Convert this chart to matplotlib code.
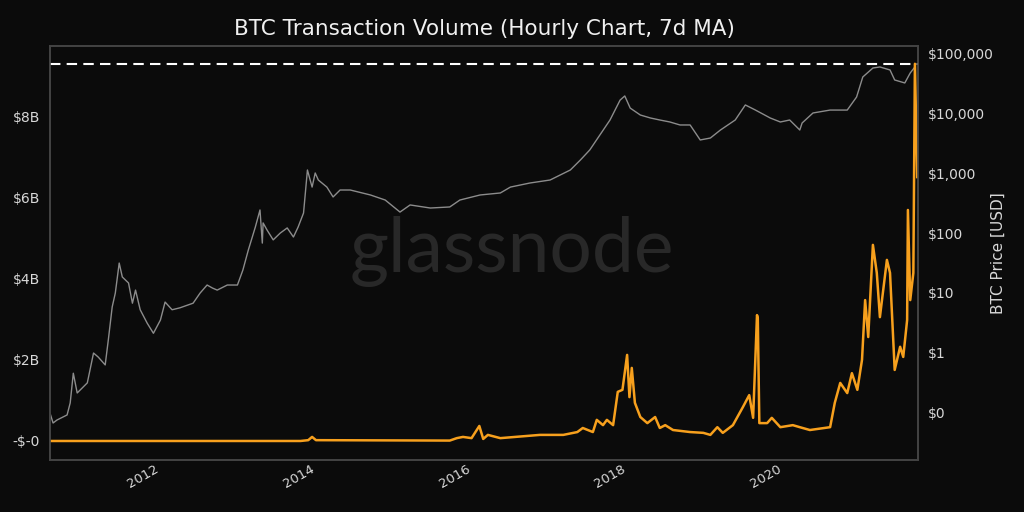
import numpy as np
import matplotlib
matplotlib.use('Agg')
import matplotlib.pyplot as plt
from matplotlib.ticker import FuncFormatter, FixedLocator

# BTC price (USD), time in decimal years
price_t = [2010.57, 2010.61, 2010.66, 2010.79, 2010.83, 2010.87, 2010.92, 2011.05, 2011.13, 2011.19,
           2011.28, 2011.32, 2011.37, 2011.41, 2011.46, 2011.50, 2011.58, 2011.63, 2011.67, 2011.73,
           2011.82, 2011.90, 2011.99, 2012.05, 2012.14, 2012.24, 2012.41, 2012.50, 2012.59, 2012.66,
           2012.72, 2012.85, 2012.98, 2013.05, 2013.12, 2013.21, 2013.27, 2013.30, 2013.31, 2013.36,
           2013.44, 2013.53, 2013.62, 2013.70, 2013.76, 2013.83, 2013.88, 2013.94, 2013.98, 2014.02,
           2014.13, 2014.21, 2014.30, 2014.43, 2014.69, 2014.88, 2015.07, 2015.20, 2015.46, 2015.71,
           2015.84, 2016.10, 2016.36, 2016.49, 2016.74, 2017.00, 2017.26, 2017.39, 2017.51, 2017.64,
           2017.77, 2017.90, 2017.96, 2018.03, 2018.16, 2018.29, 2018.41, 2018.54, 2018.67, 2018.80,
           2018.93, 2019.06, 2019.19, 2019.38, 2019.51, 2019.64, 2019.83, 2019.96, 2020.08, 2020.21,
           2020.24, 2020.38, 2020.60, 2020.82, 2020.94, 2021.02, 2021.15, 2021.24, 2021.37, 2021.43,
           2021.56, 2021.63, 2021.69]
price_usd = [0.097, 0.066, 0.074, 0.090, 0.143, 0.45, 0.21, 0.31, 0.98, 0.84,
             0.62, 1.62, 5.8, 9.9, 31.5, 18.4, 14.6, 6.7, 11.1, 5.2,
             3.1, 2.1, 3.5, 7.0, 5.2, 5.6, 6.7, 9.9, 13.5, 12.0,
             11.1, 13.5, 13.5, 24, 52, 126, 244, 68, 148, 113,
             77, 100, 122, 86, 126, 217, 1140, 590, 1016, 775,
             590, 403, 527, 527, 435, 358, 225, 296, 263, 274,
             358, 435, 470, 590, 690, 775, 1140, 1680, 2470, 4400,
             7840, 16900, 19800, 12400, 9500, 8470, 7840, 7260, 6470, 6470,
             3630, 3910, 5330, 7840, 14000, 11500, 8470, 7260, 7840, 5330,
             6990, 10280, 11500, 11500, 19000, 41200, 58200, 60600, 54000, 36700,
             32700, 48100, 60600]

# Transaction volume (USD billions, 7d MA)
vol_t = [2010.57, 2013.79, 2013.89, 2013.94, 2013.99, 2015.71, 2015.80, 2015.88, 2015.99, 2016.09,
         2016.14, 2016.20, 2016.36, 2016.87, 2017.17, 2017.35, 2017.42, 2017.55, 2017.60, 2017.68,
         2017.73, 2017.81, 2017.87, 2017.93, 2017.99, 2018.02, 2018.05, 2018.09, 2018.16, 2018.25,
         2018.35, 2018.41, 2018.48, 2018.58, 2018.80, 2018.97, 2019.06, 2019.15, 2019.22, 2019.35,
         2019.48, 2019.56, 2019.61, 2019.66, 2019.67, 2019.69, 2019.79, 2019.85, 2019.96, 2020.12,
         2020.21, 2020.34, 2020.60, 2020.66, 2020.73, 2020.82, 2020.88, 2020.95, 2021.01, 2021.05,
         2021.09, 2021.15, 2021.20, 2021.24, 2021.33, 2021.37, 2021.43, 2021.50, 2021.54, 2021.59,
         2021.60, 2021.63, 2021.67, 2021.69, 2021.72]
vol_b = [0.0, 0.0, 0.02, 0.10, 0.02, 0.01, 0.07, 0.10, 0.07, 0.37,
         0.05, 0.15, 0.07, 0.15, 0.15, 0.22, 0.32, 0.22, 0.52, 0.39,
         0.52, 0.39, 1.21, 1.26, 2.12, 1.08, 1.80, 0.94, 0.59, 0.44,
         0.59, 0.32, 0.39, 0.27, 0.22, 0.20, 0.15, 0.34, 0.20, 0.39,
         0.84, 1.13, 0.57, 3.10, 3.03, 0.44, 0.44, 0.57, 0.34, 0.39,
         0.34, 0.27, 0.34, 0.94, 1.43, 1.18, 1.67, 1.26, 2.00, 3.47,
         2.56, 4.83, 4.14, 3.05, 4.46, 4.14, 1.75, 2.32, 2.07, 2.98,
         5.69, 3.47, 4.14, 9.29, 6.50]

year_ticks = [2012, 2014, 2016, 2018, 2020]
vol_ticks = [0, 2e9, 4e9, 6e9, 8e9]
price_ticks = [0.1, 1, 10, 100, 1000, 10000, 100000]

bg = '#0b0b0b'
txt = '#d8d8d8'
orange = '#f7a01d'

fig = plt.figure(figsize=(10.24, 5.12), dpi=100, facecolor=bg)
ax = fig.add_axes([0.0488, 0.1016, 0.8477, 0.8086])
ax2 = ax.twinx()
ax.set_zorder(ax2.get_zorder() + 1)
ax.patch.set_visible(False)
ax2.set_facecolor(bg)

ax2.plot(price_t, price_usd, color='#8c8c8c', lw=1)
ax2.set_yscale('log')
ax2.set_ylim(10 ** -1.80, 10 ** 5.134)
ax2.yaxis.set_major_locator(FixedLocator(price_ticks))
ax2.yaxis.set_minor_locator(FixedLocator([]))
ax2.yaxis.set_major_formatter(FuncFormatter(lambda v, p: '${:,.0f}'.format(v)))
ax2.set_ylabel('BTC Price [USD]', color=txt, fontsize=11, labelpad=-2)

vol = np.array(vol_b) * 1e9
ax.plot(vol_t, vol, color=orange, lw=1.8)
ax.axhline(vol.max(), color='white', lw=1.5, ls=(0, (5, 3)))
ax.set_ylim(-0.468e9, 9.729e9)
ax.set_xlim(2010.57, 2021.73)
ax.yaxis.set_major_locator(FixedLocator(vol_ticks))
ax.yaxis.set_major_formatter(FuncFormatter(
    lambda v, p: '-$-0' if v == 0 else '${:.0f}B'.format(v / 1e9)))
ax.set_xticks(year_ticks)
ax.set_xticklabels([str(y) for y in year_ticks], rotation=30, ha='right')

for a in (ax, ax2):
    a.tick_params(colors=txt, labelsize=10, length=0, pad=7)
    for s in a.spines.values():
        s.set_color('#444444')
        s.set_linewidth(1.2)
ax.tick_params(axis='x', pad=2, labelsize=9.5)

ax.set_title('BTC Transaction Volume (Hourly Chart, 7d MA)', color='#f0f0f0',
             fontsize=15.5, pad=8)

fig.text(0.5, 0.508, 'glassnode', color='#282828', fontsize=54, family='Lato',
         ha='center', va='center', zorder=0)

fig.savefig('out.png', dpi=100, facecolor=bg)
